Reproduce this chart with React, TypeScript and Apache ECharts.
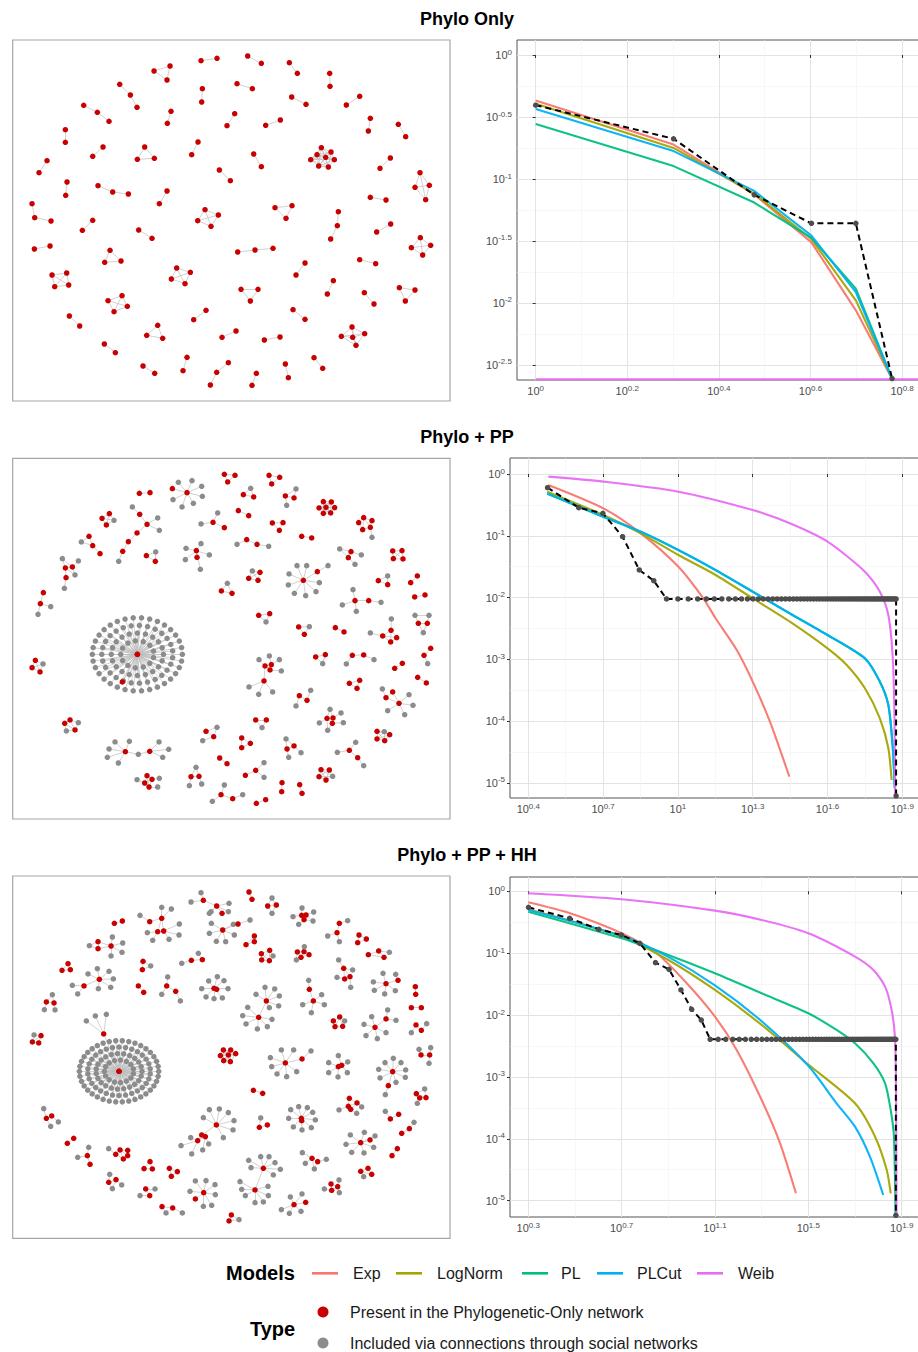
import React, { useEffect, useRef } from 'react';
import * as echarts from 'echarts';

const FONT = '"Liberation Sans", Arial, Helvetica, sans-serif';
const RED = '#C80000';
const GRAY = '#8C8C8C';

const panelTitles = ['Phylo Only', 'Phylo + PP', 'Phylo + PP + HH'];
const modelNames = ['Exp', 'LogNorm', 'PL', 'PLCut', 'Weib'];
const modelColors = ['#F8766D', '#A3A500', '#00BF7D', '#00B0F6', '#E76BF3'];
const typeLabels = ['Present in the Phylogenetic-Only network', 'Included via connections through social networks'];

// ---------- Degree distributions (CCDF) ----------
// Panel 1: empirical
const p1Degree = [1, 2, 3, 4, 5, 6];
const p1Ccdf = [0.394, 0.211, 0.0745, 0.0439, 0.0439, 0.00246];
// model fits: [log10 degree, log10 CCDF]
const p1Exp = [[0, -0.366], [0.301, -0.722], [0.477, -1.123], [0.602, -1.511], [0.699, -2.059], [0.778, -2.61]];
const p1LogNorm = [[0, -0.393], [0.301, -0.749], [0.477, -1.118], [0.602, -1.484], [0.699, -1.979], [0.778, -2.61]];
const p1PL = [[0, -0.556], [0.301, -0.896], [0.477, -1.19], [0.602, -1.475], [0.699, -1.885], [0.778, -2.61]];
const p1PLCut = [[0, -0.436], [0.301, -0.775], [0.477, -1.096], [0.602, -1.457], [0.699, -1.912], [0.778, -2.61]];
const p1Weib = [[0, -2.615], [0.301, -2.615], [0.477, -2.615], [0.602, -2.615], [0.699, -2.615], [0.778, -2.615], [0.85, -2.615]];

// Panel 2: empirical
const p2Degree = [3, 4, 5, 6, 7, 8, 9, 10, 11, 12, 13, 14, 15, 16, 17, 18, 19, 20, 21, 22, 23, 24, 25, 26, 27, 28, 29, 30, 31, 32, 33, 34, 35, 36, 37, 38, 39, 40, 41, 42, 43, 44, 45, 46, 47, 48, 49, 50, 51, 52, 53, 54, 55, 56, 57, 58, 59, 60, 61, 62, 63, 64, 65, 66, 67, 68, 69, 70, 71, 72, 73, 74, 75, 75];
const p2Ccdf = [0.6, 0.285, 0.231, 0.0968, 0.028, 0.0188,
  0.0095, 0.0095, 0.0095, 0.0095, 0.0095, 0.0095, 0.0095, 0.0095, 0.0095, 0.0095,
  0.0095, 0.0095, 0.0095, 0.0095, 0.0095, 0.0095, 0.0095, 0.0095, 0.0095, 0.0095,
  0.0095, 0.0095, 0.0095, 0.0095, 0.0095, 0.0095, 0.0095, 0.0095, 0.0095, 0.0095,
  0.0095, 0.0095, 0.0095, 0.0095, 0.0095, 0.0095, 0.0095, 0.0095, 0.0095, 0.0095,
  0.0095, 0.0095, 0.0095, 0.0095, 0.0095, 0.0095, 0.0095, 0.0095, 0.0095, 0.0095,
  0.0095, 0.0095, 0.0095, 0.0095, 0.0095, 0.0095, 0.0095, 0.0095, 0.0095, 0.0095,
  0.0095, 0.0095, 0.0095, 0.0095, 0.0095, 0.0095, 0.0095,
  0.0000062];
const p2Exp = [[0.48, -0.178], [0.701, -0.556], [0.851, -0.96], [1.002, -1.5], [1.102, -2.012], [1.151, -2.335], [1.236, -2.848], [1.3, -3.36], [1.369, -4.008], [1.447, -4.898]];
const p2LogNorm = [[0.476, -0.286], [0.701, -0.663], [0.851, -0.96], [1.002, -1.311], [1.151, -1.634], [1.3, -2.012], [1.449, -2.389], [1.6, -2.821], [1.677, -3.091], [1.75, -3.468], [1.81, -3.954], [1.844, -4.439], [1.857, -4.951]];
const p2PL = [[0.476, -0.32], [0.701, -0.695], [0.851, -0.935], [1.002, -1.232], [1.151, -1.556], [1.3, -1.905], [1.449, -2.257], [1.6, -2.607], [1.75, -2.985], [1.81, -3.362], [1.844, -3.74], [1.861, -4.39], [1.87, -5.09]];
const p2PLCut = [[0.476, -0.313], [0.701, -0.69], [0.851, -0.933], [1.002, -1.23], [1.151, -1.553], [1.3, -1.904], [1.449, -2.255], [1.6, -2.605], [1.75, -2.983], [1.81, -3.36], [1.844, -3.738], [1.861, -4.385], [1.87, -5.086]];
const p2Weib = [[0.48, -0.043], [0.701, -0.124], [1.002, -0.286], [1.3, -0.583], [1.449, -0.798], [1.6, -1.095], [1.75, -1.58], [1.81, -1.904], [1.844, -2.282], [1.861, -2.929], [1.868, -3.8], [1.872, -5.4]];

// Panel 3: empirical
const p3Degree = [2, 3, 4, 5, 6, 7, 8, 9, 10, 11, 12, 13, 14, 15, 16, 17, 18, 19, 20, 21, 22, 23, 24, 25, 26, 27, 28, 29, 30, 31, 32, 33, 34, 35, 36, 37, 38, 39, 40, 41, 42, 43, 44, 45, 46, 47, 48, 49, 50, 51, 52, 53, 54, 55, 56, 57, 58, 59, 60, 61, 62, 63, 64, 65, 66, 67, 68, 69, 70, 71, 72, 73, 74, 75, 75];
const p3Ccdf = [0.551, 0.366, 0.243, 0.197, 0.144, 0.0703, 0.0548, 0.0254, 0.0124, 0.0083,
  0.00406, 0.00406, 0.00406, 0.00406, 0.00406, 0.00406, 0.00406, 0.00406, 0.00406, 0.00406,
  0.00406, 0.00406, 0.00406, 0.00406, 0.00406, 0.00406, 0.00406, 0.00406, 0.00406, 0.00406,
  0.00406, 0.00406, 0.00406, 0.00406, 0.00406, 0.00406, 0.00406, 0.00406, 0.00406, 0.00406,
  0.00406, 0.00406, 0.00406, 0.00406, 0.00406, 0.00406, 0.00406, 0.00406, 0.00406, 0.00406,
  0.00406, 0.00406, 0.00406, 0.00406, 0.00406, 0.00406, 0.00406, 0.00406, 0.00406, 0.00406,
  0.00406, 0.00406, 0.00406, 0.00406, 0.00406, 0.00406, 0.00406, 0.00406, 0.00406, 0.00406,
  0.00406, 0.00406, 0.00406, 0.00406,
  0.0000058];
const p3Exp = [[0.3, -0.178], [0.479, -0.356], [0.7, -0.679], [0.85, -1.002], [0.979, -1.487], [1.1, -2.026], [1.193, -2.565], [1.3, -3.373], [1.379, -4.073], [1.447, -4.881]];
const p3LogNorm = [[0.3, -0.291], [0.7, -0.733], [0.9, -1.11], [1.1, -1.595], [1.3, -2.16], [1.5, -2.8], [1.7, -3.427], [1.786, -3.966], [1.836, -4.504], [1.853, -4.881]];
const p3PL = [[0.3, -0.329], [0.7, -0.76], [0.9, -1.029], [1.1, -1.325], [1.3, -1.649], [1.5, -1.972], [1.621, -2.241], [1.7, -2.457], [1.779, -2.78], [1.829, -3.103], [1.853, -3.534], [1.867, -3.966], [1.874, -5.4]];
const p3PLCut = [[0.3, -0.302], [0.7, -0.72], [0.9, -1.06], [1.1, -1.52], [1.3, -2.1], [1.5, -2.82], [1.621, -3.427], [1.7, -3.804], [1.764, -4.289], [1.821, -4.908]];
const p3Weib = [[0.3, -0.032], [0.7, -0.129], [1.1, -0.3125], [1.3, -0.463], [1.5, -0.679], [1.7, -1.056], [1.779, -1.272], [1.829, -1.541], [1.857, -1.918], [1.871, -2.349], [1.876, -3.2], [1.878, -5.4]];

// tick values (log10)
const p1XMajor = [0, 0.2, 0.4, 0.6, 0.8];
const p1XMinor = [0.1, 0.3, 0.5, 0.7];
const p1YMajor = [-2.5, -2, -1.5, -1, -0.5, 0];
const p1YMinor = [-2.25, -1.75, -1.25, -0.75, -0.25];
const p2XMajor = [0.4, 0.7, 1, 1.3, 1.6, 1.9];
const p2XMinor = [0.55, 0.85, 1.15, 1.45, 1.75];
const p3XMajor = [0.3, 0.7, 1.1, 1.5, 1.9];
const p3XMinor = [0.5, 0.9, 1.3, 1.7];
const pYMajor = [-5, -4, -3, -2, -1, 0];
const pYMinor = [-4.5, -3.5, -2.5, -1.5, -0.5];

// ---------- Networks (node positions) ----------
// C = clique, P = path, S = star from first node, E = explicit edges after "|"
const phyloOnlyNet = [
  'C:432,123 480,108 471,150', 'P:573,92 621,85', 'P:713,78 754,100', 'P:838,98 862,130', 'P:959,130 960,169',
  'P:329,163 361,195 381,232', 'P:577,176 575,216', 'P:681,161 727,176', 'P:845,201 888,223', 'P:1009,225 1049,199',
  'P:221,226 262,247 297,274', 'P:483,244 472,280', 'P:674,251 651,287', 'P:767,286 811,270', 'P:1081,265 1075,303',
  'P:1165,283 1187,320', 'P:166,299 166,337', 'P:279,351 248,379', 'C:404,351 382,388 433,385', 'P:564,336 545,374',
  'P:731,372 754,410', 'C:934,353 963,366 921,374 902,389 973,389 926,408 955,411 947,382', 'P:1110,415 1141,384',
  'P:111,392 87,428', 'P:628,420 661,452', 'C:1230,428 1258,466 1215,472 1247,509', 'P:171,456 167,496',
  'P:264,467 308,486 355,492', 'P:471,483 448,521', 'P:1081,502 1128,510', 'P:66,521 74,563 123,573',
  'C:585,539 625,555 563,572 603,589', 'C:795,533 846,527 828,565', 'P:985,545 982,587 962,627', 'P:248,571 217,601',
  'P:1100,606 1142,582', 'P:386,600 426,625', 'P:73,657 120,648', 'P:683,666 735,660 789,655',
  'C:1231,623 1262,646 1204,653 1238,675', 'C:300,661 284,697 333,693', 'P:1049,689 1097,701', 'P:885,699 858,735',
  'C:126,735 170,729 134,770 176,765', 'C:500,714 541,727 484,747 525,761', 'C:693,778 744,778 721,813',
  'P:970,752 952,792', 'P:1063,788 1092,822', 'C:1168,773 1215,780 1186,813', 'C:336,797 294,812 352,829 312,845',
  'P:178,858 209,888', 'C:443,886 410,916 458,925', 'P:588,841 551,869', 'P:849,839 885,868',
  'C:1026,891 1064,911 994,919 1028,922 1038,946', 'P:636,922 678,903', 'P:763,930 810,921', 'P:283,942 316,968',
  'P:399,1008 434,1030', 'P:531,982 519,1022', 'P:655,998 620,1027 601,1065', 'P:739,1030 726,1066',
  'P:826,1002 835,1043', 'P:912,983 938,1015',
];

const phyloPPStar = [382, 598, 135, 110];
const phyloPPStarRings = [34, 27, 20, 13];
const phyloPPNet = [
  'E:r382,598 r337,681|0-1', 'P:r388,115 r420,113',
  'S:r531,113 g505,82 g546,77 g575,94 g577,124 g550,145 g516,156 g489,134 r487,101',
  'C:r643,58 r675,61 r653,81', 'C:r777,61 r809,67 r785,87', 'C:r700,119 r731,126 g722,100',
  'E:r826,123 r852,129 g858,102 g830,151|0-1 1-2 0-3 0-2',
  'C:r940,140 r964,141 r927,159 r948,157 r974,158 r940,175 r962,174',
  'E:r1046,203 r1061,188 r1086,197 r1058,224 r1081,217 g1086,247|0-1 1-2 0-3 3-4 1-3 2-4 1-4 4-5',
  'C:r276,190 r298,176 r289,210 g312,196',
  'E:g367,156 r389,178 r411,208 g443,189 g448,226 r381,234 r355,260 r338,289 g326,319|0-1 1-2 2-3 2-4 2-5 5-6 6-7 7-8',
  'E:g214,261 r237,244 r248,272 r270,296|0-2 1-2 2-3 0-1', 'C:r409,302 g437,291 r436,319',
  'S:r609,202 g623,174 g573,207 r643,218', 'P:r685,167 r716,182', 'C:r787,204 r819,203 r808,226',
  'P:g681,268 r710,254 r741,268 g776,274', 'P:r875,244 r905,249',
  'S:r559,287 r561,307 g528,280 g573,266 g598,300 g571,343 g526,314',
  'E:g157,311 r166,339 r187,336 g205,318 g195,360 r168,368 g163,400|0-1 1-2 2-3 2-4 1-4 1-5 5-6 0-2',
  'C:r716,370 r744,376 r750,352 g727,348', 'C:r634,408 r666,415 g652,385',
  'E:r880,376 g837,357 g861,332 g890,332 g928,383 g918,410 g887,422 g853,415 g835,390 r922,350 g954,332|0>1-9 9-10',
  'E:g989,282 r1023,290 r1015,308 g1054,300 g1035,328|0-1 1-2 1-3 2-4 0-2',
  'C:r1148,288 r1176,287 r1150,311 r1179,312', 'C:r1105,377 r1133,389 g1133,363', 'P:r1202,383 r1222,363',
  'P:r1214,426 r1245,420', 'E:r100,413 r91,446 g84,478 g122,455|0-1 1-2 1-3',
  'E:r1035,437 g1029,404 g997,450 g1039,469 r1076,437 g1113,442|0>1-4 4-5',
  'E:r1225,505 r1252,505 g1215,481 g1257,481 g1240,533|0-1 0-2 1-3 0-4 1-4 2-3',
  'C:r746,481 r779,476 g768,501', 'C:r866,516 g898,515 r883,538', 'P:r976,518 r1002,531',
  'E:r1143,526 r1118,543 r1142,561 r1160,548 g1144,492 g1081,534|0-1 1-2 2-3 0-3 0-2 1-3 0-4 1-5',
  'C:r76,616 g99,627 r66,638 r90,651', 'E:r1262,580 r1242,601 g1253,626|0-1 1-2',
  'C:r917,606 r946,599 g938,626', 'P:g1009,627 r1027,601 r1061,600 g1092,614',
  'E:r765,633 r784,629 r780,645 g747,614 g778,603 g808,614 g814,648 r762,678 g717,696 g746,718 g788,711|0-1 1-2 0-2 0-3 1-4 1-5 2-6 0-7 7>8-10',
  'P:r1154,640 r1177,625', 'C:r1018,685 r1049,676 r1041,700', 'P:r1223,667 r1249,684',
  'E:r868,722 r891,736 g902,706 g858,753|0-1 1-2 0-3',
  'E:r1167,745 r1128,728 r1148,711 g1117,702 g1197,719 g1209,751 g1184,779 g1133,767|0>1-2 1-2 1-3 0>4-7',
  'E:r164,805 r180,795 r195,825 g205,803 g169,828|0-1 1-2 0-2 1-3 2-3 0-4 2-4',
  'C:r737,795 r769,795 g756,818',
  'E:r951,790 r969,789 r967,805 g960,763 g993,774 g928,804 g1000,803 g953,826|0-1 1-2 0-2 0-3 1-3 1-4 0-5 2-6 2-7 0-7',
  'E:r588,829 r611,845 g621,817 g578,857|0-1 1-2 0-2 1-3', 'C:r695,849 r721,865 r695,878',
  'C:r1101,829 r1139,839 r1101,852 r1124,857 g1123,830',
  'E:g828,852 r831,882 r852,873 g873,893 g836,907|0-1 1-2 0-2 2-3 1-4',
  'E:r346,890 g315,861 g358,859 g297,882 g292,907 g325,924 g385,898 r419,889 g447,861 g476,883 g458,907|0>1-6 7>6-10',
  'E:r1018,886 g1037,862 g982,892 r1043,908 g1061,932|0>1-3 3-4', 'P:r629,909 r651,926',
  'E:r411,962 r426,973 r404,984 r417,996 g381,974 g448,970 g443,996|0-1 0-2 1-2 1-3 2-3 0-3 2-4 1-5 3-6',
  'E:g558,937 r543,965 r567,964 g538,992 g575,987|0-1 0-2 1-2 1-3 2-4',
  'S:r737,946 r706,961 g762,923 g762,967', 'C:r933,944 r958,945 r927,965 r948,975 g968,964',
  'E:g643,990 r633,1019 r668,1031 g607,1039 g698,1019|0-1 1-2 1-3 2-4',
  'P:r816,983 r815,1010', 'P:r869,989 r876,1015', 'P:r739,1045 r767,1034',
];

const phyloPPHHStar = [327, 604, 119, 92];
const phyloPPHHStarRings = [38, 30, 23, 15];
const phyloPPHHNet = [
  'E:r327,604 r281,492 g229,453 g256,438 g289,433|0-1 1>2-4',
  'E:r580,91 g573,68 g543,96 r620,108 r636,130 g603,125 g657,100 g598,130 g655,125|0>1-3 3>4-8',
  'P:r717,66 r726,88', 'E:r773,108 r799,105 g786,84 g786,130|0-1 0-2 1-2 0-3 1-3',
  'E:r875,136 r888,135 r882,149 g849,140 g876,114 g911,126 g909,153 g866,163|0-1 1-2 0-2 0-3 0-4 1-5 1-6 2-6 2-7',
  'E:r988,160 r981,188 g1013,152 g953,198 g988,215|0-1 0-2 1-3 1-4', 'C:r1047,195 r1069,207 r1043,218',
  'E:r1106,243 r1075,254 r1122,262 g1138,247|0-1 0-2 1-2 0-3', 'P:r313,160 r337,153',
  'E:r455,145 r419,155 r443,185 r461,183 g390,136 g484,117 g508,162 g507,195 g477,208 g428,211 g412,188 g455,112|0-1 0-2 0-3 2-3 1-4 0-5 3-6 3-7 3-8 2-9 2-10 0-11',
  'E:r638,180 g598,190 g604,160 g619,214 g647,215 g673,195 g670,163 r684,162 g720,150|0>1-7 7-8',
  'E:r303,228 r264,215 r264,236 g307,201 g338,219 g336,247 g303,258 g238,227|0>1-6 1-2 2-7 1-7',
  'C:r733,198 r708,224 r733,215', 'E:r754,251 r779,241 r778,272 r755,270 g789,258|0-1 1-2 2-3 3-0 0-2 1-3 1-4 2-4',
  'E:r862,246 r882,245 r873,262 r897,254 g883,230 g859,270|0-1 1-2 0-2 1-3 2-3 1-4 0-5 2-5',
  'C:r174,281 r156,301 r181,299', 'C:r399,274 r397,299 g422,288', 'E:r544,271 r577,269 g565,250 g515,280|0-1 1-2 0-3',
  'E:r1001,295 r1004,327 r1020,320 g986,270 g1028,300 g981,322 g1022,352|0-1 1-2 0-2 0-3 0-4 1-5 2-6',
  'E:r268,328 r222,348 g187,346 g203,372 g234,312 g262,296 g297,304 g310,327 g302,352 g265,356|0-1 1-2 1-3 0>4-9',
  'P:r385,348 r401,367', 'E:r470,348 r497,364 g473,321 g455,373 g511,393|0-1 0-2 0-3 1-4',
  'E:r612,355 r620,358 g575,356 g588,381 g596,333 g622,320 g642,332 g654,356 g637,384 g612,386|0-1 0>2-9',
  'E:r1128,341 r1164,331 g1157,313 g1119,310 g1090,336 g1093,361 g1124,372 g1156,362|0-1 1-2 0>3-7',
  'P:r1216,350 r1217,373', 'E:r109,396 r132,399 g103,419 g127,374 g135,420|0-1 0-2 1-3 1-4 0-3',
  'E:r769,393 g738,373 g765,352 g794,357 g808,378 g806,408 g778,413 r746,442 g698,437 g708,462 g742,477 g772,470 g786,448 g713,412|0>1-7 7>8-13',
  'E:r910,393 r898,358 g896,331 g878,404 g904,428 g943,404 g935,374|0-1 1-2 0>3-6', 'P:r1204,413 r1234,413',
  'E:r970,453 r989,441 r975,470 r998,469 g1004,453|0-1 0-2 1-2 1-3 2-3 3-4 1-4',
  'E:r1095,472 r1128,447 g1133,420 g1158,451 g1062,463 g1068,497 g1102,506 g1128,488 g1085,440|0-1 1-2 1-3 0>4-8',
  'E:r1218,465 r1234,481 g1204,488 g1250,461|0-1 0-2 1-3', 'E:r67,516 r86,519 r93,497 g72,495|0-1 1-2 0-2 0-3 2-3',
  'E:r1233,555 r1259,555 g1227,538 g1262,533 g1257,580|0-1 0-2 1-3 1-4',
  'C:r640,540 r662,540 r631,557 r655,555 r677,551 r641,572 r661,575',
  'E:r826,579 g781,563 g785,590 g801,612 g830,620 g860,605 g851,540 g814,540 r876,567 g903,543|0>1-8 8-9',
  'E:r985,590 r995,586 g956,578 g956,608 g984,621 g1012,608 g1013,576 g985,557|0-1 0>2-4 1>5-7',
  'E:r1148,605 g1106,598 g1110,624 g1125,578 g1150,565 g1173,578 g1187,600 g1186,622 g1158,637 r1135,647 g1126,674|0>1-9 9-10',
  'P:r730,661 r758,670', 'E:r1219,671 r1248,683 r1229,684 g1244,657 g1222,700|0-1 1-2 0-2 0-3 1-3 2-4',
  'E:r1018,685 r1041,699 r1015,709 r1022,718 g1055,711 g987,720 g1040,730|0-1 0-2 1-2 2-3 1-3 1-4 2-5 3-6',
  'E:r109,745 r125,738 g101,716 g145,756 g122,769|0-1 0-2 1-3 0-4',
  'E:r619,765 g598,719 g628,717 g655,728 g672,752 g669,780 g640,803 g580,743 r575,795 r586,800 r563,812 g542,803 g513,827 g545,852 g596,822 g578,840|0>1-8 8-9 8-10 9-10 10>11-13 9-14 9-15',
  'E:r874,745 r875,752 g836,745 g842,719 g866,710 g892,713 g908,727 g916,750 g904,773 g876,780 g850,771|0-1 0>2-10',
  'E:r1141,747 r1166,733 g1126,724|0-1 0-2', 'E:r748,772 r772,765 g752,744|0-1 0-2', 'P:r1175,790 r1198,776 g1212,757',
  'P:r172,820 r191,805',
  'E:r1052,818 r1080,810 g1021,795 g1008,823 g1025,847 g1062,849 g1091,832 g1095,798 g1063,787|0-1 0>2-8',
  'P:r1146,857 r1162,836', 'E:r232,857 r240,883 g236,832 g203,862|0-1 0-2 0-3',
  'E:r317,853 r330,840 r340,867 r353,857 r353,841 g296,836|0-1 0-2 1-2 2-3 3-4 1-4 1-3 0-5',
  'E:r906,865 r923,875 g886,880 g913,897 g877,848 g949,868|0-1 0-2 1-3 0-4 1-5 0-3',
  'E:r760,895 g723,893 g716,871 g752,860 g777,860 g795,878 g811,898 g790,915 r735,960 g695,958 g690,935 g706,977 g735,998 g760,996 g775,977 g774,949|0>1-8 8>9-15',
  'C:r420,875 r402,896 r427,897', 'C:r478,895 r502,905 r484,919',
  'E:r1052,904 r1074,895 r1085,913 g1061,920|0-1 1-2 0-2 0-3',
  'E:r296,937 r318,929 g299,913 g335,945 g307,956|0-1 0-2 1-3 0-4 1-4',
  'E:r581,968 r556,987 g540,964 g556,933 g588,932 g615,944 g616,974 g605,1006 g580,1009|0-1 0>2-8',
  'E:r852,1004 r887,997 g814,1019 g838,1030 g873,1024 g876,972 g841,981|0-1 0>2-6',
  'E:r407,957 r419,977 g435,957 g390,977|0-1 0-2 1-3',
  'E:r963,942 r983,950 r965,961 g987,930 g988,968 g943,957|0-1 1-2 0-2 1-3 1-4 2-5',
  'E:r456,1010 r488,1014 g468,1029 g517,1029|0-1 0-2 1-3', 'E:r664,1035 r657,1053 g687,1049|0-1 1-2 0-2',
];

// ---------- helpers ----------
function buildNet(comps: string[], star?: number[], rings?: number[]) {
  const nodes: any[] = [];
  const links: any[] = [];
  if (star && rings) {
    const [hx, hy, rx, ry] = star;
    nodes.push({ value: [hx, hy], itemStyle: { color: RED } });
    rings.forEach((n, j) => {
      const f = 1 - j * 0.21;
      for (let i = 0; i < n; i++) {
        const a = (2 * Math.PI * (i + (j % 2) * 0.5)) / n;
        nodes.push({ value: [hx + rx * f * Math.cos(a), hy + ry * f * Math.sin(a)], itemStyle: { color: GRAY } });
        links.push({ source: 0, target: nodes.length - 1 });
      }
    });
  }
  comps.forEach((c) => {
    const type = c[0];
    const [nodePart, edgePart] = c.slice(2).split('|');
    const toks = nodePart.trim().split(/\s+/);
    const base = nodes.length;
    toks.forEach((t) => {
      let col = RED;
      let s = t;
      if (t[0] === 'g') { col = GRAY; s = t.slice(1); } else if (t[0] === 'r') { s = t.slice(1); }
      const [x, y] = s.split(',').map(Number);
      nodes.push({ value: [x, y], itemStyle: { color: col } });
    });
    const n = toks.length;
    const add = (a: number, b: number) => { if (a !== b) links.push({ source: base + a, target: base + b }); };
    if (type === 'P') for (let i = 0; i < n - 1; i++) add(i, i + 1);
    else if (type === 'C') { for (let i = 0; i < n; i++) for (let j = i + 1; j < n; j++) add(i, j); }
    else if (type === 'S') { for (let i = 1; i < n; i++) add(0, i); }
    else if (type === 'E' && edgePart) {
      edgePart.trim().split(/\s+/).forEach((e) => {
        if (e.includes('>')) {
          const [a, r] = e.split('>');
          const [lo, hi] = r.split('-').map(Number);
          for (let k = lo; k <= hi; k++) add(Number(a), k);
        } else {
          const [a, b] = e.split('-').map(Number);
          add(a, b);
        }
      });
    }
  });
  return { nodes, links };
}

const fmtExp = (v: number) => String(Number(v.toFixed(2)));
const supFormatter = (v: number) => `{b|10}{s|${fmtExp(v)}}`;
const supRich = {
  b: { fontSize: 11, color: '#4D4D4D', fontFamily: FONT, lineHeight: 14 },
  s: { fontSize: 8, color: '#4D4D4D', fontFamily: FONT, lineHeight: 8, verticalAlign: 'top' },
};

export default function App() {
  const ref = useRef<HTMLDivElement>(null);
  useEffect(() => {
    if (!ref.current) return;
    const chart = echarts.init(ref.current, undefined, { renderer: 'svg' });

    const nets = [
      buildNet(phyloOnlyNet),
      buildNet(phyloPPNet, phyloPPStar, phyloPPStarRings),
      buildNet(phyloPPHHNet, phyloPPHHStar, phyloPPHHStarRings),
    ];
    const netGrids = [
      { left: 12.7, top: 40, width: 437.3, height: 361, xr: [8, 1320], yr: [30, 1113] },
      { left: 12.7, top: 458.3, width: 437.3, height: 360.7, xr: [8, 1320], yr: [10, 1092] },
      { left: 12.7, top: 876, width: 437.3, height: 362.3, xr: [8, 1320], yr: [18, 1105] },
    ];
    const plots = [
      { grid: { left: 517, top: 40, width: 408, height: 340 }, x: [-0.0408, 0.85], y: [-2.621, 0.121],
        xMaj: p1XMajor, xMin: p1XMinor, yMaj: p1YMajor, yMin: p1YMinor,
        models: [p1Exp, p1LogNorm, p1PL, p1PLCut, p1Weib], deg: p1Degree, ccdf: p1Ccdf, smooth: false },
      { grid: { left: 510, top: 458, width: 415, height: 340 }, x: [0.3265, 1.991], y: [-5.243, 0.259],
        xMaj: p2XMajor, xMin: p2XMinor, yMaj: pYMajor, yMin: pYMinor,
        models: [p2Exp, p2LogNorm, p2PL, p2PLCut, p2Weib], deg: p2Degree, ccdf: p2Ccdf, smooth: true },
      { grid: { left: 510, top: 877, width: 415, height: 340 }, x: [0.2216, 2.0], y: [-5.264, 0.231],
        xMaj: p3XMajor, xMin: p3XMinor, yMaj: pYMajor, yMin: pYMinor,
        models: [p3Exp, p3LogNorm, p3PL, p3PLCut, p3Weib], deg: p3Degree, ccdf: p3Ccdf, smooth: true },
    ];

    const grid: any[] = [];
    const xAxis: any[] = [];
    const yAxis: any[] = [];
    const series: any[] = [];

    netGrids.forEach((g, i) => {
      grid.push({ left: g.left, top: g.top, width: g.width, height: g.height, show: true,
        borderColor: '#A6A6A6', borderWidth: 1.2, backgroundColor: '#fff', outerBoundsMode: 'none', containLabel: false });
      xAxis.push({ type: 'value', gridIndex: i, min: g.xr[0], max: g.xr[1], show: false });
      yAxis.push({ type: 'value', gridIndex: i, min: g.yr[0], max: g.yr[1], inverse: true, show: false });
      series.push({
        type: 'graph', coordinateSystem: 'cartesian2d', xAxisIndex: i, yAxisIndex: i,
        symbol: 'circle', symbolSize: 5.5, silent: true,
        data: nets[i].nodes, links: nets[i].links,
        lineStyle: { color: '#BDBDBD', width: 0.7, opacity: 1, curveness: 0 },
        itemStyle: { borderWidth: 0 },
        label: { show: false }, emphasis: { disabled: true },
      });
    });

    plots.forEach((p) => {
      grid.push({ ...p.grid, show: true, borderColor: '#555555', borderWidth: 1, backgroundColor: '#fff',
        outerBoundsMode: 'none', containLabel: false });
    });
    plots.forEach((p, pi) => {
      const gi = 3 + pi;
      xAxis.push({ type: 'value', gridIndex: gi, min: p.x[0], max: p.x[1], position: 'bottom',
        axisLine: { show: false },
        axisTick: { show: true, length: 3, lineStyle: { color: '#333', width: 1 }, customValues: p.xMaj },
        axisLabel: { customValues: p.xMaj, formatter: supFormatter, rich: supRich, margin: 4 },
        splitLine: { show: true, lineStyle: { color: '#E3E3E3', width: 1 } } });
      yAxis.push({ type: 'value', gridIndex: gi, min: p.y[0], max: p.y[1], position: 'left',
        axisLine: { show: false },
        axisTick: { show: true, length: 3, lineStyle: { color: '#333', width: 1 }, customValues: p.yMaj },
        axisLabel: { customValues: p.yMaj, formatter: supFormatter, rich: supRich, margin: 5 },
        splitLine: { show: true, lineStyle: { color: '#E3E3E3', width: 1 } } });
    });
    plots.forEach((p, pi) => {
      const gi = 3 + pi;
      xAxis.push({ type: 'value', gridIndex: gi, min: p.x[0], max: p.x[1], position: 'top',
        axisLine: { show: false }, axisTick: { show: false, customValues: p.xMin },
        axisLabel: { show: false, customValues: p.xMin },
        splitLine: { show: true, lineStyle: { color: '#F1F1F1', width: 0.6 } } });
      yAxis.push({ type: 'value', gridIndex: gi, min: p.y[0], max: p.y[1], position: 'right',
        axisLine: { show: false }, axisTick: { show: false, customValues: p.yMin },
        axisLabel: { show: false, customValues: p.yMin },
        splitLine: { show: true, lineStyle: { color: '#F1F1F1', width: 0.6 } } });
    });

    plots.forEach((p, pi) => {
      const ai = 3 + pi;
      p.models.forEach((curve, mi) => {
        series.push({
          type: 'line', name: modelNames[mi], xAxisIndex: ai, yAxisIndex: ai,
          data: curve, symbol: 'none', showSymbol: false,
          smooth: p.smooth ? 0.25 : false,
          lineStyle: { color: modelColors[mi], width: 2.1, opacity: 0.95 },
          itemStyle: { color: modelColors[mi] }, silent: true, z: 2,
        });
      });
      series.push({
        type: 'line', name: 'Empirical', xAxisIndex: ai, yAxisIndex: ai,
        data: p.deg.map((d, i) => [Math.log10(d), Math.log10(p.ccdf[i])]),
        symbol: 'circle', symbolSize: 5.5, showSymbol: true,
        itemStyle: { color: '#4D4D4D', borderWidth: 0 },
        lineStyle: { color: '#000', width: 2, type: [6, 4] }, silent: true, z: 3,
      });
    });

    const legendLineX = [312, 396, 522, 597, 697];
    const legendTextX = [353, 437, 561, 637, 738];
    const graphic: any[] = [];
    const titleY = [19, 437, 855];
    panelTitles.forEach((t, i) => graphic.push({
      type: 'text', x: 467, y: titleY[i],
      style: { text: t, font: `bold 18px ${FONT}`, fill: '#000', textAlign: 'center', textVerticalAlign: 'middle', verticalAlign: 'middle' },
    }));
    graphic.push({ type: 'text', x: 226, y: 1273,
      style: { text: 'Models', font: `bold 20px ${FONT}`, fill: '#000', textAlign: 'left', textVerticalAlign: 'middle', verticalAlign: 'middle' } });
    modelNames.forEach((m, i) => {
      graphic.push({ type: 'rect', shape: { x: legendLineX[i], y: 1272, width: 26, height: 2.6 }, style: { fill: modelColors[i] } });
      graphic.push({ type: 'text', x: legendTextX[i], y: 1273,
        style: { text: m, font: `16px ${FONT}`, fill: '#1A1A1A', textAlign: 'left', textVerticalAlign: 'middle', verticalAlign: 'middle' } });
    });
    graphic.push({ type: 'text', x: 250, y: 1329,
      style: { text: 'Type', font: `bold 20px ${FONT}`, fill: '#000', textAlign: 'left', textVerticalAlign: 'middle', verticalAlign: 'middle' } });
    const typeColors = [RED, GRAY];
    const typeY = [1312, 1343];
    typeLabels.forEach((t, i) => {
      graphic.push({ type: 'circle', shape: { cx: 323, cy: typeY[i], r: 5.5 }, style: { fill: typeColors[i] } });
      graphic.push({ type: 'text', x: 350, y: typeY[i],
        style: { text: t, font: `16px ${FONT}`, fill: '#1A1A1A', textAlign: 'left', textVerticalAlign: 'middle', verticalAlign: 'middle' } });
    });

    chart.setOption({
      animation: false,
      backgroundColor: '#ffffff',
      textStyle: { fontFamily: FONT },
      grid, xAxis, yAxis, series, graphic,
    });
    return () => chart.dispose();
  }, []);
  return <div ref={ref} style={{ position: 'absolute', left: 0, top: 0, width: 918, height: 1352, background: '#fff' }} />;
}
